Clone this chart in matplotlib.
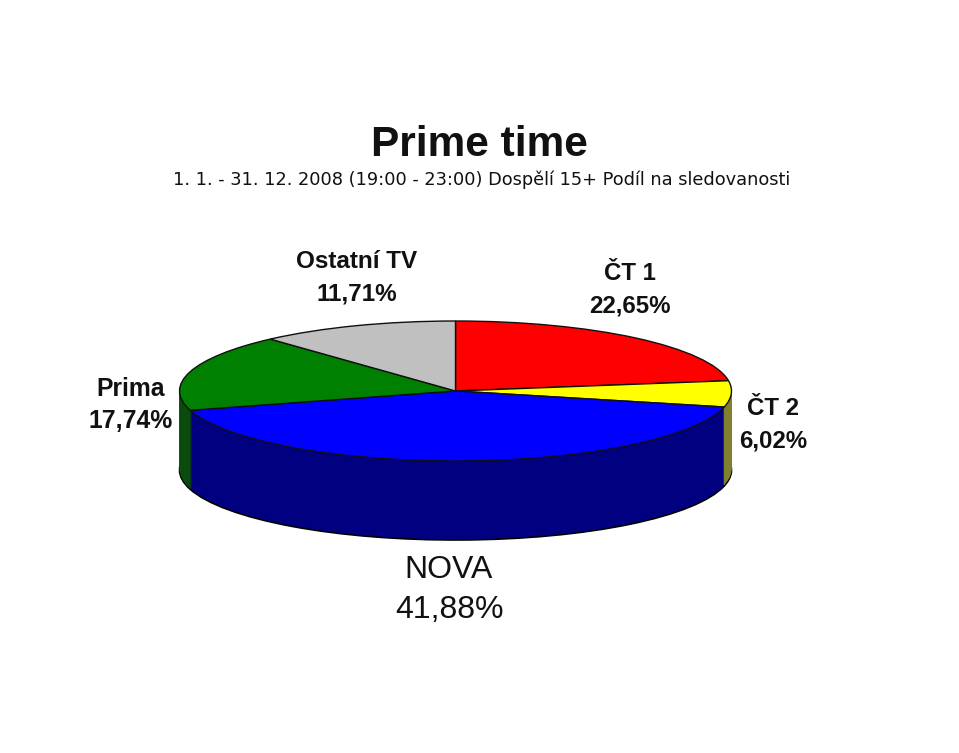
import numpy as np
from matplotlib import pyplot as plt

plt.rcParams['font.family'] = ['Liberation Sans', 'DejaVu Sans']

CHANNELS = ['ČT 1', 'ČT 2', 'NOVA', 'Prima', 'Ostatní TV']
SHARES = [22.65, 6.02, 41.88, 17.74, 11.71]
SHARE_LABELS = ['22,65%', '6,02%', '41,88%', '17,74%', '11,71%']
TOP_COLORS = ['#ff0000', '#ffff00', '#0000ff', '#008000', '#c0c0c0']
SIDE_COLORS = ['#800000', '#808030', '#000080', '#0a4a0a', '#606060']

W, H = 959, 753
CX, CY = 455.5, 391
RX, RY = 276, 70
DEPTH = 79


def fx(px):
	return px / W


def fy(py):
	return 1 - py / H


fig = plt.figure(figsize=(W / 100, H / 100), dpi=100, facecolor='white')
ax = fig.add_axes([0, 0, 1, 1])


def draw_pie(drop, colors, edge, lw=0):
	ax.pie(SHARES, colors=colors, startangle=90, counterclock=False,
		center=(0, -drop / RY), radius=1,
		wedgeprops={'edgecolor': edge, 'linewidth': lw})


# bottom slice carries the outline, then stack up to the top face
draw_pie(DEPTH, SIDE_COLORS, 'black', 1.2)
for d in np.arange(DEPTH - 1, 0, -1):
	draw_pie(d, SIDE_COLORS, 'none')
draw_pie(0, TOP_COLORS, '#101010', 1.0)

ax.set_aspect('auto')
ax.set_xlim(-CX / RX, (W - CX) / RX)
ax.set_ylim((CY - H) / RY, CY / RY)
ax.axis('off')

fig.text(fx(479), fy(140), 'Prime time', fontsize=30.5, fontweight='bold',
	ha='center', va='center_baseline', color='#111111')
fig.text(fx(482), fy(180), '1. 1. - 31. 12. 2008 (19:00 - 23:00) Dospělí 15+ Podíl na sledovanosti',
	fontsize=12.8, family='DejaVu Sans', ha='center', va='center', color='#111111')

# label position, size and weight for each channel
label_pos = [(630, 271, 304), (773, 406, 438), (449, 567, 607), (131, 386, 419), (357, 259, 292)]
label_size = [17.3, 17.3, 23, 17.8, 17.5]
label_weight = ['bold', 'bold', 'normal', 'bold', 'bold']
for i, name in enumerate(CHANNELS):
	x, y1, y2 = label_pos[i]
	fig.text(fx(x), fy(y1), name, fontsize=label_size[i], fontweight=label_weight[i],
		ha='center', va='center_baseline', color='#111111')
	fig.text(fx(x), fy(y2), SHARE_LABELS[i], fontsize=label_size[i], fontweight=label_weight[i],
		ha='center', va='center_baseline', color='#111111')

fig.savefig('out.png', dpi=100, facecolor='white')
